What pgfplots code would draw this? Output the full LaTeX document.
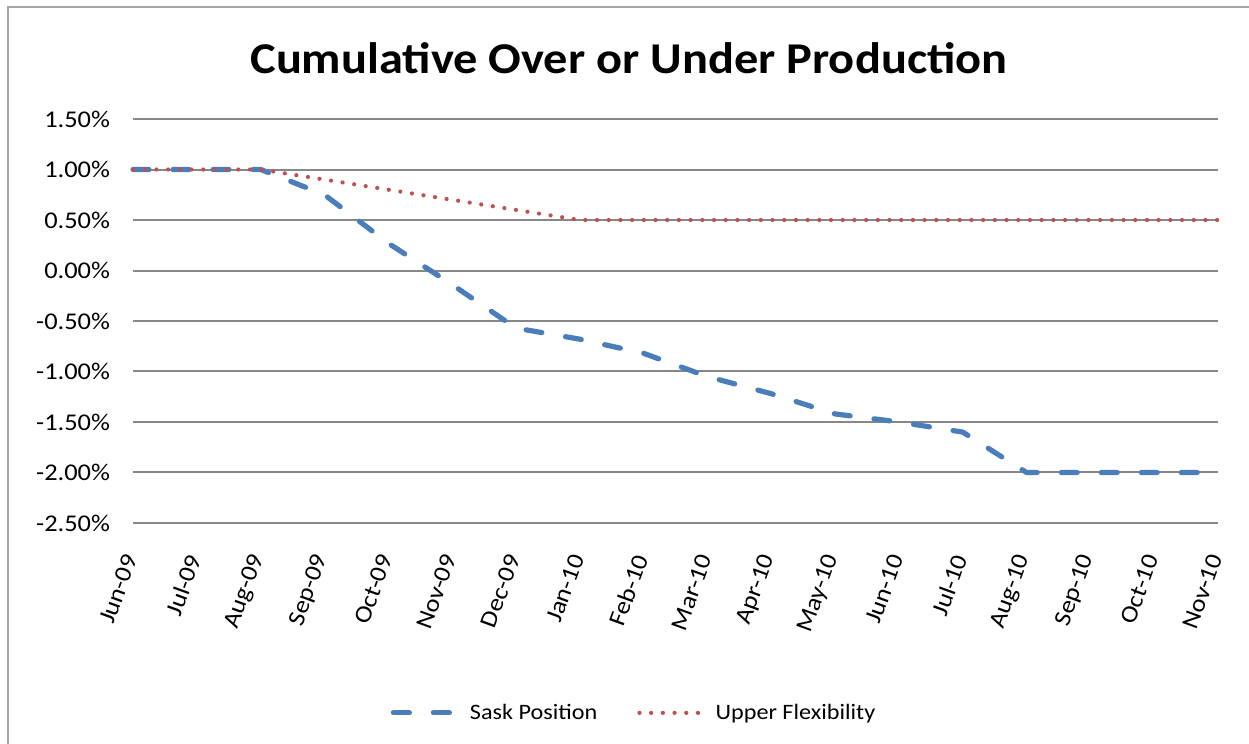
\documentclass[border=0pt]{standalone}
\usepackage{fontspec}
\setmainfont{Carlito}[FakeStretch=1.1]
\usepackage{pgfplots}
\pgfplotsset{compat=1.18}
\definecolor{sask}{HTML}{4A7EBB}
\definecolor{flex}{HTML}{C0504D}
\definecolor{gridc}{HTML}{878787}
\definecolor{framec}{HTML}{A6A6A6}

\begin{document}
\begin{tikzpicture}
\useasboundingbox (0pt,0pt) rectangle (624.5pt,372pt);
\draw[framec, line width=1pt] (4pt,0pt) -- (4pt,368.5pt) -- (624.5pt,368.5pt);
\node[font=\fontsize{22}{26}\selectfont\bfseries] at (314.5pt,343pt) {Cumulative Over or Under Production};
\begin{axis}[
  at={(66.5pt,110.5pt)}, anchor=south west,
  scale only axis, width=542.5pt, height=202pt,
  xmin=0, xmax=17, ymin=-2.5, ymax=1.5,
  xtick={0,...,17},
  xticklabels={Jun-09,Jul-09,Aug-09,Sep-09,Oct-09,Nov-09,Dec-09,Jan-10,Feb-10,Mar-10,Apr-10,May-10,Jun-10,Jul-10,Aug-10,Sep-10,Oct-10,Nov-10},
  ytick={-2.5,-2,-1.5,-1,-0.5,0,0.5,1,1.5},
  yticklabels={-2.50\%,-2.00\%,-1.50\%,-1.00\%,-0.50\%,0.00\%,0.50\%,1.00\%,1.50\%},
  ymajorgrids,
  major grid style={gridc, line width=1pt},
  axis line style={draw=none},
  major tick length=0pt,
  xticklabel shift=13pt,
  xticklabel style={rotate=70, anchor=east, font=\fontsize{12}{14}\selectfont},
  yticklabel style={font=\fontsize{12}{14}\selectfont, xshift=-8pt},
  clip=false,
  legend style={at={(0.4627,-0.47)}, anchor=center, draw=none, fill=none,
    legend columns=2, font=\fontsize{11}{13}\selectfont,
    /tikz/every even column/.append style={column sep=18pt}},
  legend image code/.code={\draw[#1] (0pt,0pt) -- (35pt,0pt);},
]
\addplot[sask, line width=2.6pt, dash pattern=on 8pt off 12pt, line cap=round, line join=round] coordinates {
  (0,1.0) (1,1.0) (2,1.0) (3,0.75) (4,0.27) (5,-0.14) (6,-0.57) (7,-0.68) (8,-0.82)
  (9,-1.05) (10,-1.22) (11,-1.42) (12,-1.5) (13,-1.6) (14,-2.0) (15,-2.0) (16,-2.0) (17,-2.0)
};
\addlegendentry{Sask Position}
\addplot[flex, line width=2.1pt, dash pattern=on 0pt off 5.85pt, line cap=round, line join=round] coordinates {
  (0,1.0) (1,1.0) (2,1.0) (3,0.9) (4,0.8) (5,0.7) (6,0.6) (7,0.5) (8,0.5)
  (9,0.5) (10,0.5) (11,0.5) (12,0.5) (13,0.5) (14,0.5) (15,0.5) (16,0.5) (17,0.5)
};
\addlegendentry{Upper Flexibility}
\end{axis}
\end{tikzpicture}
\end{document}
